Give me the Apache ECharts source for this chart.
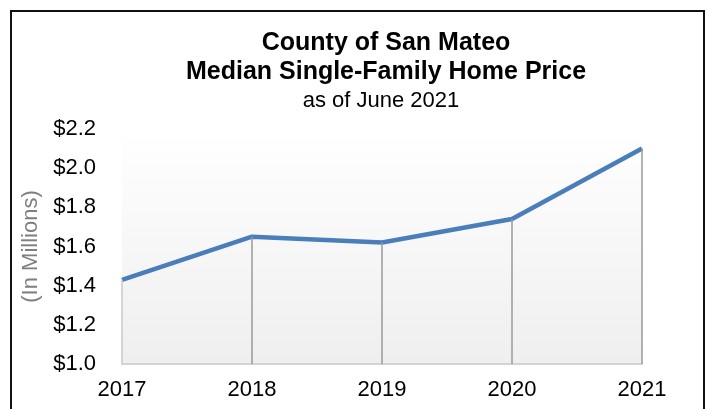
<!DOCTYPE html>
<html>
<head>
<meta charset="utf-8">
<script src="https://cdn.jsdelivr.net/npm/echarts@6/dist/echarts.min.js"></script>
<style>
  html, body { margin: 0; padding: 0; background: #fff; }
  #chart { width: 709px; height: 409px; }
</style>
</head>
<body>
<div id="chart"></div>
<script>
// 数据
var years = ['2017', '2018', '2019', '2020', '2021'];
var prices = [1.43, 1.65, 1.62, 1.74, 2.10]; // 中位价（百万美元）
var yMin = 1.0, yMax = 2.2, yStep = 0.2;

var chart = echarts.init(document.getElementById('chart'));

// 每个点向下的竖线
var dropLines = prices.map(function (v, i) {
  return [
    { coord: [i, v], lineStyle: { color: i === 0 ? '#c8c8c8' : '#9a9a9a' } },
    { coord: [i, yMin] }
  ];
});

var font = '"Liberation Sans", Arial, sans-serif';

var options = {
  animation: false,
  backgroundColor: '#fff',
  graphic: [
    { type: 'rect', shape: { x: 11, y: 11, width: 693, height: 430 },
      style: { fill: 'none', stroke: '#111', lineWidth: 2 } },
    { type: 'text', x: 386, y: 43,
      style: { text: 'County of San Mateo', font: 'bold 25px ' + font, fill: '#000',
               textAlign: 'center', textVerticalAlign: 'middle' } },
    { type: 'text', x: 386, y: 72,
      style: { text: 'Median Single-Family Home Price', font: 'bold 25px ' + font, fill: '#000',
               textAlign: 'center', textVerticalAlign: 'middle' } },
    { type: 'text', x: 381, y: 101,
      style: { text: 'as of June 2021', font: '22px ' + font, fill: '#000',
               textAlign: 'center', textVerticalAlign: 'middle' } }
  ],
  grid: {
    left: 122, right: 67, top: 129, bottom: 45,
    show: true,
    borderWidth: 0,
    backgroundColor: new echarts.graphic.LinearGradient(0, 0, 0, 1, [
      { offset: 0, color: '#ffffff' },
      { offset: 1, color: '#efefef' }
    ])
  },
  xAxis: {
    type: 'category',
    data: years,
    boundaryGap: false,
    axisLine: { show: true, lineStyle: { color: '#d4d4d4', width: 2 } },
    axisTick: { show: false },
    axisLabel: { color: '#000', fontSize: 22, fontFamily: font, margin: 15 },
    splitLine: { show: false }
  },
  yAxis: {
    type: 'value',
    min: yMin, max: yMax, interval: yStep,
    name: '(In Millions)',
    nameLocation: 'middle',
    nameGap: 72,
    nameTextStyle: { color: '#7f7f7f', fontSize: 22, fontFamily: font },
    axisLine: { show: false },
    axisTick: { show: false },
    splitLine: { show: false },
    axisLabel: {
      color: '#000', fontSize: 22, fontFamily: font, margin: 26,
      formatter: function (v) { return '$' + v.toFixed(1); }
    }
  },
  series: [{
    type: 'line',
    data: prices,
    symbol: 'none',
    lineStyle: { color: '#4a7ebb', width: 4.5 },
    z: 3,
    markLine: {
      silent: true,
      symbol: 'none',
      label: { show: false },
      lineStyle: { type: 'solid', width: 1.5, color: '#9a9a9a' },
      data: dropLines
    }
  }]
};

chart.setOption(options);
</script>
</body>
</html>
